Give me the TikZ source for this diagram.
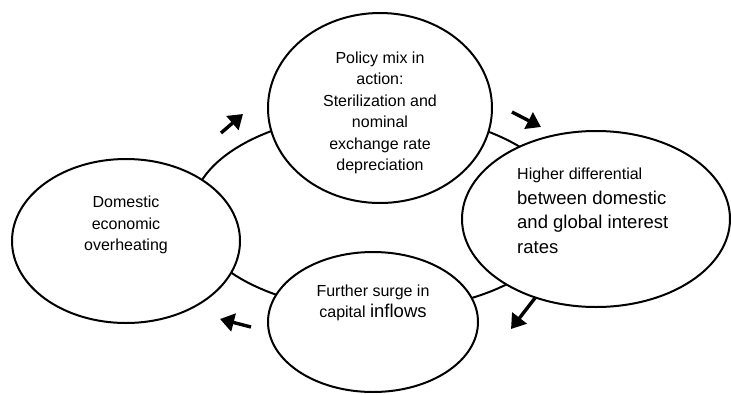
\documentclass[tikz,border=0pt]{standalone}
\usepackage{fontspec}
\setmainfont{Liberation Sans}
\usetikzlibrary{shapes.geometric,arrows.meta}
\tikzset{
  bubble/.style={ellipse, draw=black, fill=white, line width=2pt, inner sep=0pt},
  ringline/.style={ellipse, draw=black, line width=2pt, inner sep=0pt},
  txt/.style={font=\fontsize{16}{21.5}\selectfont, align=center, inner sep=0pt},
  flow/.style={line width=3.4pt, -{Triangle[length=14pt,width=18pt]}}
}
\begin{document}
\begin{tikzpicture}[x=1pt,y=-1pt]
\useasboundingbox[fill=white] (0,0) rectangle (731,394);
% background ring
\node[ringline, minimum width=374pt, minimum height=198pt] (ring) at (379,212) {};
% ellipses
\node[bubble, minimum width=224pt, minimum height=190pt] (top) at (380,108) {};
\node[bubble, minimum width=268pt, minimum height=176pt] (right) at (596,219) {};
\node[bubble, minimum width=228pt, minimum height=164pt] (left) at (126,241) {};
\node[bubble, minimum width=210pt, minimum height=140pt] (bottom) at (373,322) {};
% texts
\node[txt] (ttop) at (380,113) {Policy mix in\\action:\\Sterilization and\\nominal\\exchange rate\\depreciation};
\node[txt, align=left, anchor=west, font=\fontsize{18.5}{24.5}\selectfont] (tright) at (517,211)
  {{\fontsize{16}{24.5}\selectfont Higher differential}\\between domestic\\and global interest\\rates};
\node[txt] (tleft) at (126,225) {Domestic\\economic\\overheating};
\node[txt] (tbottom) at (373,303) {Further surge in\\capital {\fontsize{18.5}{21.5}\selectfont inflows}};
% arrows
\coordinate (a1s) at (221,133); \coordinate (a1e) at (243,114);
\coordinate (a2s) at (512,112); \coordinate (a2e) at (541,127);
\coordinate (a3s) at (535,298); \coordinate (a3e) at (511,329);
\coordinate (a4s) at (251,327); \coordinate (a4e) at (220,319);
\draw[flow] (a1s) -- (a1e);
\draw[flow] (a2s) -- (a2e);
\draw[flow] (a3s) -- (a3e);
\draw[flow] (a4s) -- (a4e);
\end{tikzpicture}
\end{document}
